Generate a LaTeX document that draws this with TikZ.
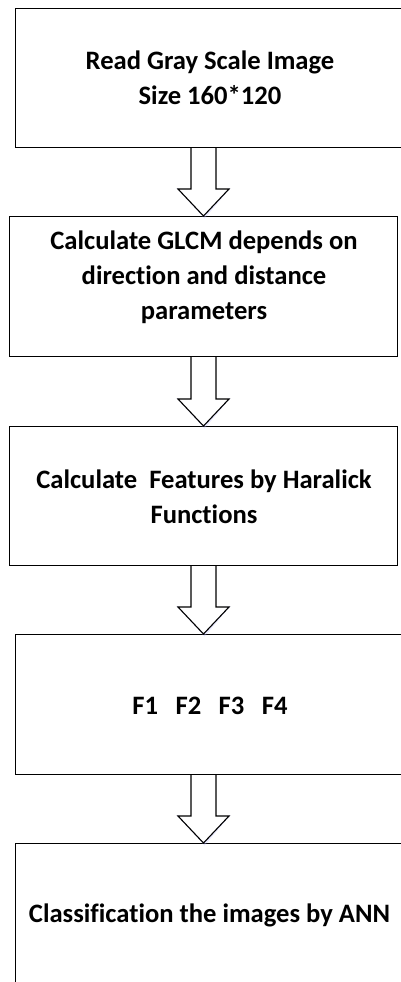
\documentclass[tikz,border=0pt]{standalone}
\usepackage{fontspec}
\setmainfont[Ligatures=NoCommon]{Carlito}
\usetikzlibrary{calc}
\begin{document}
\begin{tikzpicture}[x=1pt,y=-1pt,
  box/.style={draw=black, line width=1.2pt, fill=white, rectangle, inner sep=0pt, anchor=north west},
  lbl/.style={font=\fontsize{26.6}{35}\selectfont\bfseries, align=center, inner sep=0pt},
  blockarrow/.style={draw=black, line width=1.1pt, fill=white, line join=miter}
]
\useasboundingbox (0,0) rectangle (400,982);
% boxes
\node[box, minimum width=392pt, minimum height=139pt] (b1) at (15,8) {};
\node[box, minimum width=388pt, minimum height=140pt] (b2) at (9,216) {};
\node[box, minimum width=388pt, minimum height=139pt] (b3) at (9,426) {};
\node[box, minimum width=392pt, minimum height=140pt] (b4) at (15,634) {};
\node[box, minimum width=392pt, minimum height=150pt] (b5) at (15,843) {};
% texts
\node[lbl] (t1) at (210,78) {Read Gray Scale Image\\Size 160*120};
\node[lbl] (t2) at (204,277) {Calculate GLCM depends on\\direction and distance\\parameters};
\node[lbl] (t3) at (204,497) {Calculate\ \ Features by Haralick\\Functions};
\node[lbl] (t4) at (210,706) {F1\hspace{17.5pt}F2\hspace{17.5pt}F3\hspace{17.5pt}F4};
\node[lbl] (t5) at (209.5,915.5) {Classification the images by ANN};
% arrow tips
\coordinate (a1) at (203.5,216);
\coordinate (a2) at (203.5,426);
\coordinate (a3) at (203.5,634);
\coordinate (a4) at (203.5,843);
\foreach \s/\t in {b1/a1,b2/a2,b3/a3,b4/a4}{
  \fill[blue!25, opacity=0.35] ($(\t)+(-27,-28)$) -- ($(\t)+(1,2.5)$) -- ($(\t)+(27,-28)$) -- ($(\t)+(25,-28)$) -- ($(\t)+(0,-1)$) -- ($(\t)+(-25,-28)$) -- cycle;
  \draw[blockarrow] (\s.south -| {$(\t)+(-12.5,0)$}) -- ($(\t)+(-12.5,-27)$) -- ($(\t)+(-25.5,-27)$) -- (\t) -- ($(\t)+(25.5,-27)$) -- ($(\t)+(12.5,-27)$) -- (\s.south -| {$(\t)+(12.5,0)$});
}
\end{tikzpicture}
\end{document}
